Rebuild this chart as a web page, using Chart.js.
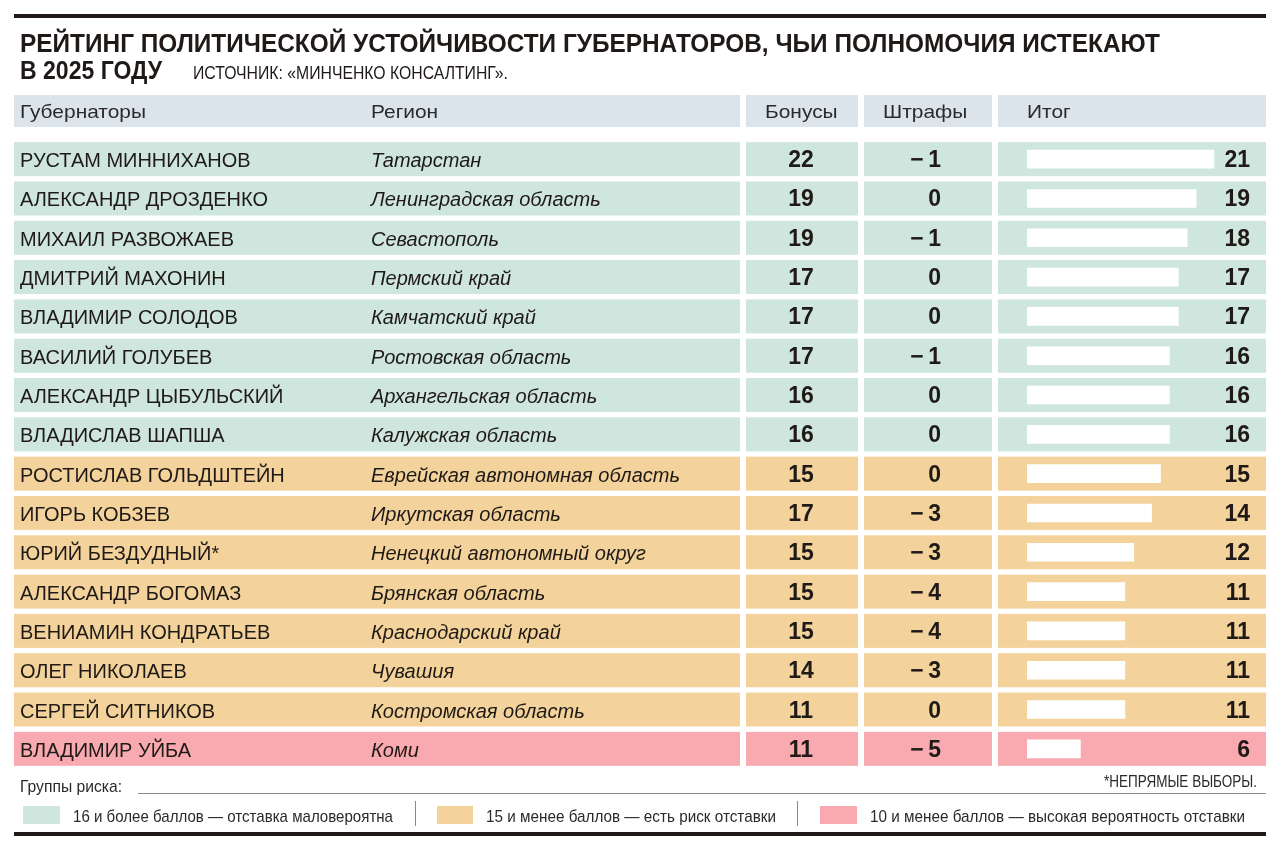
<!DOCTYPE html>
<html><head><meta charset="utf-8">
<script src="https://cdn.jsdelivr.net/npm/chart.js@4/dist/chart.umd.min.js"></script>
<style>html,body{margin:0;padding:0;background:#fff;}canvas{display:block}</style>
</head><body>
<canvas id="c" width="1280" height="849"></canvas>
<script>
const titleLine1 = "РЕЙТИНГ ПОЛИТИЧЕСКОЙ УСТОЙЧИВОСТИ ГУБЕРНАТОРОВ, ЧЬИ ПОЛНОМОЧИЯ ИСТЕКАЮТ";
const titleLine2 = "В 2025 ГОДУ";
const sourceText = "ИСТОЧНИК: «МИНЧЕНКО КОНСАЛТИНГ».";
const columnHeaders = ["Губернаторы", "Регион", "Бонусы", "Штрафы", "Итог"];
const governors = ["РУСТАМ МИННИХАНОВ","АЛЕКСАНДР ДРОЗДЕНКО","МИХАИЛ РАЗВОЖАЕВ","ДМИТРИЙ МАХОНИН","ВЛАДИМИР СОЛОДОВ","ВАСИЛИЙ ГОЛУБЕВ","АЛЕКСАНДР ЦЫБУЛЬСКИЙ","ВЛАДИСЛАВ ШАПША","РОСТИСЛАВ ГОЛЬДШТЕЙН","ИГОРЬ КОБЗЕВ","ЮРИЙ БЕЗДУДНЫЙ*","АЛЕКСАНДР БОГОМАЗ","ВЕНИАМИН КОНДРАТЬЕВ","ОЛЕГ НИКОЛАЕВ","СЕРГЕЙ СИТНИКОВ","ВЛАДИМИР УЙБА"];
const regions = ["Татарстан","Ленинградская область","Севастополь","Пермский край","Камчатский край","Ростовская область","Архангельская область","Калужская область","Еврейская автономная область","Иркутская область","Ненецкий автономный округ","Брянская область","Краснодарский край","Чувашия","Костромская область","Коми"];
const bonuses = [22,19,19,17,17,17,16,16,15,17,15,15,15,14,11,11];
const penalties = [-1,0,-1,0,0,-1,0,0,0,-3,-3,-4,-4,-3,0,-5];
const totals = [21,19,18,17,17,16,16,16,15,14,12,11,11,11,11,6];
const riskGroup = [0,0,0,0,0,0,0,0,1,1,1,1,1,1,1,2];
const groupsTitle = "Группы риска:";
const legendLabels = ["16 и более баллов — отставка маловероятна","15 и менее баллов — есть риск отставки","10 и менее баллов — высокая вероятность отставки"];
const footnote = "*НЕПРЯМЫЕ ВЫБОРЫ.";

const GROUP_COLORS = ["#cfe6df", "#f3d39b", "#f9aab0"];
const HEADER_BG = "#dce4eb";
const INK = "#1f1a17";
const SANS = '"Liberation Sans", Arial, sans-serif';

function txt(ctx, s, x, y, font, color, align, sx) {
  ctx.save();
  ctx.font = font; ctx.fillStyle = color; ctx.textBaseline = 'alphabetic';
  ctx.textAlign = align || 'left';
  ctx.translate(x, y); ctx.scale(sx || 1, 1);
  ctx.fillText(s, 0, 0);
  ctx.restore();
}
function fitScale(ctx, font, sample, width) {
  ctx.save(); ctx.font = font; const w = ctx.measureText(sample).width; ctx.restore();
  return width / w;
}
function fmtPenalty(v) { return v < 0 ? "\u2212\u2009" + Math.abs(v) : String(v); }

const tablePlugin = {
  id: 'table',
  beforeDatasetsDraw(chart) {
    const ctx = chart.ctx;
    const y = chart.scales.y;
    ctx.save();
    ctx.fillStyle = INK; ctx.fillRect(14, 14, 1252, 4);
    const fT = 'bold 25px ' + SANS;
    txt(ctx, titleLine1, 20, 52, fT, INK, 'left', fitScale(ctx, fT, titleLine1, 1140));
    txt(ctx, titleLine2, 20, 79, fT, INK, 'left', fitScale(ctx, fT, titleLine2, 142));
    const fS = '18px ' + SANS;
    txt(ctx, sourceText, 193, 79, fS, INK, 'left', fitScale(ctx, fS, sourceText, 315));
    const cols = [[14, 740], [746, 858], [864, 992], [998, 1266]];
    ctx.fillStyle = HEADER_BG;
    cols.forEach(c => ctx.fillRect(c[0], 95, c[1] - c[0], 32));
    const fH = '19px ' + SANS;
    const sH = fitScale(ctx, fH, "Губернаторы", 126);
    const hx = [20, 371, 765, 883, 1027];
    columnHeaders.forEach((h, i) => txt(ctx, h, hx[i], 118, fH, "#2a2a2a", 'left', sH));
    const fN = '20px ' + SANS;
    const sN = fitScale(ctx, fN, "АЛЕКСАНДР ДРОЗДЕНКО", 248);
    const fR = 'italic 20px ' + SANS;
    const sR = fitScale(ctx, fR, "Еврейская автономная область", 309);
    const fNum = 'bold 23px ' + SANS;
    governors.forEach((g, i) => {
      const cy = y.getPixelForValue(i);
      ctx.fillStyle = GROUP_COLORS[riskGroup[i]];
      cols.forEach(c => ctx.fillRect(c[0], cy - 17, c[1] - c[0], 34));
      txt(ctx, g, 20, cy + 8, fN, INK, 'left', sN);
      txt(ctx, regions[i], 371, cy + 8, fR, INK, 'left', sR);
      txt(ctx, String(bonuses[i]), 801, cy + 8, fNum, INK, 'center', 1);
      txt(ctx, fmtPenalty(penalties[i]), 941, cy + 8, fNum, INK, 'right', 1);
    });
    const fF = '17px ' + SANS;
    txt(ctx, groupsTitle, 20, 792, fF, "#2a2a2a", 'left', fitScale(ctx, fF, groupsTitle, 102));
    ctx.fillStyle = "#8a8a8a"; ctx.fillRect(138, 793, 1128, 1);
    txt(ctx, footnote, 1257, 787, fF, "#2a2a2a", 'right', fitScale(ctx, fF, footnote, 153));
    const sw = [[23, 60, 73, 320], [437, 473, 486, 290], [820, 857, 870, 375]];
    legendLabels.forEach((l, i) => {
      ctx.fillStyle = GROUP_COLORS[i];
      ctx.fillRect(sw[i][0], 806, sw[i][1] - sw[i][0], 18);
      txt(ctx, l, sw[i][2], 822, fF, "#2a2a2a", 'left', fitScale(ctx, fF, l, sw[i][3]));
    });
    ctx.fillStyle = "#8a8a8a";
    ctx.fillRect(415, 801, 1, 25);
    ctx.fillRect(797, 801, 1, 25);
    ctx.fillStyle = INK; ctx.fillRect(14, 832, 1252, 4);
    ctx.restore();
  },
  afterDatasetsDraw(chart) {
    const ctx = chart.ctx;
    const y = chart.scales.y;
    const fNum = 'bold 23px ' + SANS;
    totals.forEach((t, i) => {
      txt(ctx, String(t), 1250, y.getPixelForValue(i) + 8, fNum, INK, 'right', 1);
    });
  }
};

new Chart(document.getElementById('c').getContext('2d'), {
  type: 'bar',
  data: {
    labels: governors,
    datasets: [{ data: totals, backgroundColor: '#ffffff', borderWidth: 0, barThickness: 18 }]
  },
  options: {
    indexAxis: 'y', responsive: false, animation: false, devicePixelRatio: 1,
    layout: { padding: { left: 1027, right: 30.5, top: 139.5, bottom: 80.5 } },
    scales: { x: { display: false, min: 0, max: 25 }, y: { display: false } },
    plugins: { legend: { display: false }, tooltip: { enabled: false } }
  },
  plugins: [tablePlugin]
});
</script>
</body></html>
